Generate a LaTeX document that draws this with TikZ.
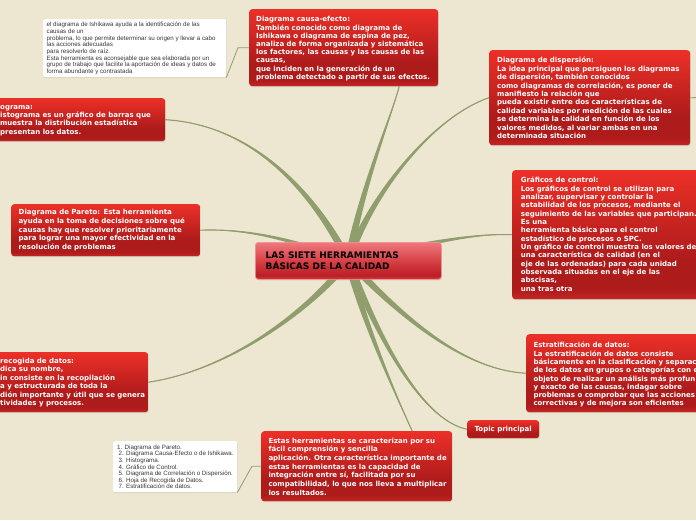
\documentclass[tikz,border=0pt]{standalone}
\usepackage{fontspec}
\usetikzlibrary{calc,shadows,backgrounds}
\newfontfamily\boxfont{DejaVu Sans}
\newfontfamily\notefont{Liberation Sans}
\definecolor{bg}{RGB}{237,231,209}
\definecolor{branch}{RGB}{143,158,108}
\definecolor{rT}{RGB}{236,48,40}
\definecolor{rD}{RGB}{174,27,27}
\definecolor{rB}{RGB}{198,38,36}
\definecolor{cT}{RGB}{240,120,124}
\definecolor{cM}{RGB}{214,64,70}
\definecolor{cD}{RGB}{188,30,36}
\definecolor{cB}{RGB}{214,62,66}
\definecolor{cEdge}{RGB}{240,150,150}
\definecolor{notetxt}{RGB}{55,55,55}
\pgfdeclareverticalshading{redgrad}{100bp}{color(0bp)=(rB); color(25bp)=(rB); color(29bp)=(rD); color(40bp)=(rD); color(75bp)=(rT); color(100bp)=(rT)}
\pgfdeclareverticalshading{titlegrad}{100bp}{color(0bp)=(cB); color(25bp)=(cB); color(30bp)=(cD); color(50bp)=(cM); color(75bp)=(cT); color(100bp)=(cT)}
\tikzset{
  redbox/.style={shade, shading=redgrad, rounded corners=3pt, inner sep=0pt, anchor=north west,
    drop shadow={shadow xshift=0.5pt, shadow yshift=-1pt, opacity=0.25}},
  titlebox/.style={shade, shading=titlegrad, draw=cEdge, line width=0.7pt, rounded corners=3pt, inner sep=0pt, anchor=north west,
    drop shadow={shadow xshift=0.5pt, shadow yshift=-1pt, opacity=0.25}},
  notebox/.style={fill=white, rounded corners=2pt, inner sep=0pt, anchor=north west,
    drop shadow={shadow xshift=0.5pt, shadow yshift=-1pt, opacity=0.2}},
  boxtxt/.style={anchor=north west, inner sep=0pt, align=left, text=white,
    font=\boxfont\bfseries\fontsize{7}{#1}\selectfont},
  notetxtstyle/.style={anchor=north west, inner sep=0pt, align=left, text=notetxt,
    font=\notefont\fontsize{6.2}{#1}\selectfont},
  thinlink/.style={draw=branch, line width=0.8pt},
}
\newcommand\tbranch[5]{%
  \fill[branch] ($#1+#2$) .. controls ($#3+0.6*#2$) and ($#4+0.2*#2$) .. #5
     .. controls ($#4-0.2*#2$) and ($#3-0.6*#2$) .. ($#1-#2$) -- cycle;
  \draw[branch, line width=1.1pt] #1 .. controls #3 and #4 .. #5;}
\begin{document}
\begin{tikzpicture}[x=1pt,y=-1pt]
\useasboundingbox (0,0) rectangle (696,520);

% boxes
\node[notebox, minimum width=183pt, minimum height=58pt] (ishnote) at (43,19) {};
\node[redbox, minimum width=189pt, minimum height=77pt] (causa) at (249,9) {};
\node[redbox, minimum width=201pt, minimum height=95pt] (disp) at (489,50) {};
\node[redbox, minimum width=180pt, minimum height=43pt] (hist) at (-15,98) {};
\node[redbox, minimum width=189pt, minimum height=52pt] (pareto) at (11,204) {};
\node[titlebox, minimum width=186pt, minimum height=37pt] (title) at (255,242) {};
\node[redbox, minimum width=190pt, minimum height=129pt] (control) at (512,170) {};
\node[redbox, minimum width=163pt, minimum height=60pt] (recog) at (-15,352) {};
\node[redbox, minimum width=180pt, minimum height=78pt] (estrat) at (526,334) {};
\node[redbox, minimum width=72pt, minimum height=18pt, text=white,
      font=\boxfont\bfseries\fontsize{7}{8}\selectfont] (topic) at (467,420) {Topic principal};
\node[redbox, minimum width=191pt, minimum height=70pt] (bottom) at (261,431) {};
\node[notebox, minimum width=124pt, minimum height=51pt] (listnote) at (113,441) {};
\coordinate (dispout) at (700,97.5);

% texts
\node[notetxtstyle=6.67] (ishnoteT) at (46.5,22) {el diagrama de Ishikawa ayuda a la identificación de las\\
causas de un\\
problema, lo que permite determinar su origen y llevar a cabo\\
las acciones adecuadas\\
para resolverlo de raíz.\\
Esta herramienta es aconsejable que sea elaborada por un\\
grupo de trabajo que facilite la aportación de ideas y datos de\\
forma abundante y contrastada};

\node[boxtxt=8.2] (causaT) at (256,16.3) {Diagrama causa-efecto:\\
También conocido como diagrama de\\
Ishikawa o diagrama de espina de pez,\\
analiza de forma organizada y sistemática\\
los factores, las causas y las causas de las\\
causas,\\
que inciden en la generación de un\\
problema detectado a partir de sus efectos.};

\node[boxtxt=8.4] (dispT) at (497,57) {Diagrama de dispersión:\\
La idea principal que persiguen los diagramas\\
de dispersión, también conocidos\\
como diagramas de correlación, es poner de\\
manifiesto la relación que\\
pueda existir entre dos características de\\
calidad variables por medición de las cuales\\
se determina la calidad en función de los\\
valores medidos, al variar ambas en una\\
determinada situación};

\node[boxtxt=8.3] (histT) at (0,105) {ograma:\\
istograma es un gráfico de barras que\\
muestra la distribución estadística\\
presentan los datos.};

\node[boxtxt=8.6] (paretoT) at (18.5,209.3) {Diagrama de Pareto: Esta herramienta\\
ayuda en la toma de decisiones sobre qué\\
causas hay que resolver prioritariamente\\
para lograr una mayor efectividad en la\\
resolución de problemas};

\node[anchor=north west, inner sep=0pt, align=left, text=black,
      font=\boxfont\bfseries\fontsize{9}{11}\selectfont] (titleT) at (265.5,252) {LAS SIETE HERRAMIENTAS\\
BÁSICAS DE LA CALIDAD};

\node[boxtxt=8.33] (controlT) at (520.7,177) {Gráficos de control:\\
Los gráficos de control se utilizan para\\
analizar, supervisar y controlar la\\
estabilidad de los procesos, mediante el\\
seguimiento de las variables que participan.\\
Es una\\
herramienta básica para el control\\
estadístico de procesos o SPC.\\
Un gráfico de control muestra los valores de\\
una característica de calidad (en el\\
eje de las ordenadas) para cada unidad\\
observada situadas en el eje de las\\
abscisas,\\
una tras otra};

\node[boxtxt=8.5] (recogT) at (0,357.7) {recogida de datos:\\
dica su nombre,\\
in consiste en la recopilación\\
a y estructurada de toda la\\
dión importante y útil que se genera\\
tividades y procesos.};

\node[boxtxt=8.3] (estratT) at (533.3,342) {Estratificación de datos:\\
La estratificación de datos consiste\\
básicamente en la clasificación y separaci\\
de los datos en grupos o categorías con e\\
objeto de realizar un análisis más profun\\
y exacto de las causas, indagar sobre\\
problemas o comprobar que las acciones\\
correctivas y de mejora son eficientes};

\node[boxtxt=8.67] (bottomT) at (268.3,437.7) {Estas herramientas se caracterizan por su\\
fácil comprensión y sencilla\\
aplicación. Otra característica importante de\\
estas herramientas es la capacidad de\\
integración entre sí, facilitada por su\\
compatibilidad, lo que nos lleva a multiplicar\\
los resultados.};

\node[notetxtstyle=6.6] (listT) at (117,444.5) {1. Diagrama de Pareto.\\
\hspace*{1.5pt}2. Diagrama Causa-Efecto o de Ishikawa.\\
\hspace*{1.5pt}3. Histograma.\\
\hspace*{1.5pt}4. Gráfico de Control.\\
\hspace*{1.5pt}5. Diagrama de Correlación o Dispersión.\\
\hspace*{1.5pt}6. Hoja de Recogida de Datos.\\
\hspace*{1.5pt}7. Estratificación de datos.};

% connectors
\begin{pgfonlayer}{background}
\fill[bg] (0,0) rectangle (696,520);
\tbranch{(title.center)}{(3.9,0.5)}{(362,185)}{(392,115)}{([xshift=55.5pt]causa.south)}
\tbranch{(title.center)}{(3.8,1)}{(368,200)}{(430,118)}{(disp.west)}
\tbranch{(title.center)}{(3.5,-1.8)}{(315,195)}{(255,125)}{(hist.east)}
\tbranch{(title.center)}{(1.4,3.6)}{(300,242)}{(250,228)}{(pareto.east)}
\tbranch{(title.center)}{(0.6,3.9)}{(420,245)}{(470,233)}{(control.west)}
\tbranch{(title.center)}{(3.1,2.3)}{(310,310)}{(230,370)}{(recog.east)}
\tbranch{(title.center)}{(3,-2.5)}{(395,310)}{(460,370)}{(estrat.west)}
\tbranch{(title.center)}{(3.6,-1.2)}{(375,330)}{(420,420)}{(topic.west)}
\tbranch{(title.center)}{(3.8,-1)}{(362,320)}{(398,400)}{([xshift=55.5pt]bottom.north)}
\draw[thinlink] (ishnote.south east) -- ([xshift=-11pt]causa.west) -- (causa.west);
\draw[thinlink] (listnote.south east) -- ([xshift=-9pt]bottom.west) -- (bottom.west);
\draw[thinlink] (disp.east) -- (dispout);
\end{pgfonlayer}
\end{tikzpicture}
\end{document}
